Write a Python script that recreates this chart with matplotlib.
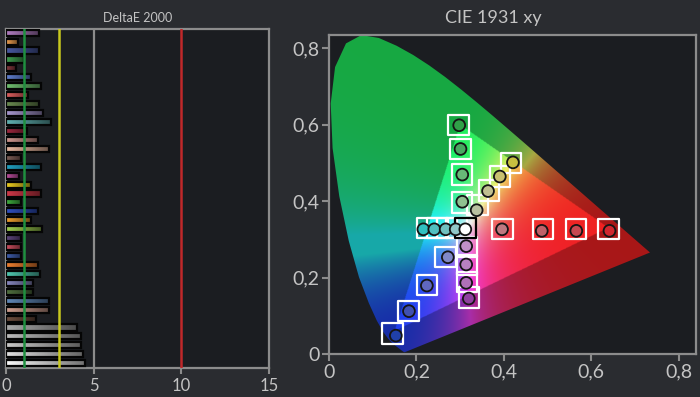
import numpy as np
import matplotlib
matplotlib.use('Agg')
import matplotlib.pyplot as plt
from matplotlib.path import Path
from matplotlib.patches import PathPatch

plt.rcParams['font.family'] = ['Lato', 'DejaVu Sans']

# ---------------- DeltaE 2000 data ----------------
de_values = [1.9, 0.7, 1.9, 1.05, 0.55, 1.43, 2.0, 1.28, 1.9, 2.1,
             2.55, 1.22, 1.85, 2.48, 0.86, 2.0, 0.76, 1.4, 2.0, 0.86,
             1.85, 1.43, 2.05, 0.86, 0.86, 0.86, 1.85, 1.95, 1.56, 1.56,
             2.48, 2.48, 1.7, 4.04, 4.25, 4.3, 4.38, 4.53]
de_colors = ['#b07cc0', '#f0a050', '#4858a0', '#40a050', '#8a3a40', '#6080d0',
             '#70c070', '#e06060', '#6a8a50', '#a898d0', '#60b0b0', '#a02840',
             '#d09890', '#e8b8a0', '#806058', '#20a0c0', '#c050a0', '#f0d020',
             '#d03848', '#40b040', '#3050c0', '#f0a030', '#a0d050', '#604880',
             '#d05060', '#4060b0', '#f08030', '#50c8b0', '#8888c0', '#507040',
             '#6088b8', '#d0a090', '#705040', '#a8a8a8', '#bcbcbc', '#cacaca',
             '#e0e0e0', '#fafafa']
de_ticks = [0, 5, 10, 15]
ref_values = [1, 3, 10]
ref_colors = ['#1f8f3f', '#c8c81e', '#c0282a']
grid_values = [5]

# ---------------- CIE 1931 data ----------------
locus_x = [0.1741, 0.1740, 0.1738, 0.1736, 0.1733, 0.1730, 0.1726, 0.1721, 0.1714,
           0.1703, 0.1689, 0.1669, 0.1644, 0.1611, 0.1566, 0.1510, 0.1440, 0.1355,
           0.1241, 0.1096, 0.0913, 0.0687, 0.0454, 0.0235, 0.0082, 0.0039, 0.0139,
           0.0389, 0.0743, 0.1142, 0.1547, 0.1929, 0.2296, 0.2658, 0.3016, 0.3373,
           0.3731, 0.4087, 0.4441, 0.4788, 0.5125, 0.5448, 0.5752, 0.6029, 0.6270,
           0.6482, 0.6658, 0.6801, 0.6915, 0.7006, 0.7079, 0.7140, 0.7190, 0.7230,
           0.7260, 0.7283, 0.7300, 0.7311, 0.7320, 0.7327, 0.7334, 0.7344, 0.7347]
locus_y = [0.0050, 0.0050, 0.0049, 0.0049, 0.0048, 0.0048, 0.0048, 0.0048, 0.0051,
           0.0058, 0.0069, 0.0086, 0.0109, 0.0138, 0.0177, 0.0227, 0.0297, 0.0399,
           0.0578, 0.0868, 0.1327, 0.2007, 0.2950, 0.4127, 0.5384, 0.6548, 0.7502,
           0.8120, 0.8338, 0.8262, 0.8059, 0.7816, 0.7543, 0.7243, 0.6923, 0.6589,
           0.6245, 0.5896, 0.5547, 0.5202, 0.4866, 0.4544, 0.4242, 0.3965, 0.3725,
           0.3514, 0.3340, 0.3197, 0.3083, 0.2993, 0.2920, 0.2859, 0.2809, 0.2770,
           0.2740, 0.2717, 0.2700, 0.2689, 0.2680, 0.2673, 0.2666, 0.2656, 0.2653]
gamut_x = [0.64, 0.30, 0.15]
gamut_y = [0.33, 0.60, 0.06]

meas_x = [0.298, 0.301, 0.305, 0.305,
          0.421, 0.391, 0.364, 0.338,
          0.216, 0.241, 0.267, 0.290,
          0.314, 0.314, 0.314, 0.320,
          0.272, 0.224, 0.183, 0.153,
          0.396, 0.487, 0.566, 0.642,
          0.312]
meas_y = [0.598, 0.536, 0.469, 0.398,
          0.501, 0.464, 0.426, 0.376,
          0.326, 0.326, 0.326, 0.326,
          0.282, 0.234, 0.186, 0.145,
          0.253, 0.179, 0.112, 0.048,
          0.326, 0.322, 0.322, 0.322,
          0.326]
meas_colors = ['#30a048', '#48a860', '#68b878', '#90c090',
               '#c8c040', '#c8c070', '#c0c090', '#b8c0a0',
               '#30c0c0', '#50c0c0', '#70c0c0', '#90c8c8',
               '#c090c8', '#b880c0', '#b070b8', '#9040a0',
               '#8088c8', '#6068c0', '#4050b0', '#2040a8',
               '#c07880', '#c06068', '#c84850', '#d02830',
               '#ffffff']
targ_x = [0.296, 0.301, 0.305, 0.305,
          0.417, 0.391, 0.366, 0.340,
          0.225, 0.248, 0.270, 0.292,
          0.316, 0.316, 0.316, 0.320,
          0.267, 0.224, 0.182, 0.145,
          0.397, 0.490, 0.566, 0.640,
          0.3127]
targ_y = [0.599, 0.536, 0.469, 0.396,
          0.500, 0.464, 0.427, 0.390,
          0.329, 0.329, 0.329, 0.329,
          0.280, 0.232, 0.188, 0.148,
          0.253, 0.180, 0.112, 0.054,
          0.326, 0.326, 0.326, 0.326,
          0.329]
targ_edges = ['white'] * 24 + ['black']
cie_ticks = [0, 0.2, 0.4, 0.6, 0.8]
cie_ticklabels = ['0', '0,2', '0,4', '0,6', '0,8']

# ---------------- styles ----------------
FIG_BG = '#2a2c30'
AX_BG = '#1b1d21'
SPINE = '#8c8c8c'
TXT = '#c4c4c4'

W, H = 700, 397
fig = plt.figure(figsize=(W / 100, H / 100), dpi=100, facecolor=FIG_BG)

# ================= Left: DeltaE bars =================
ax1 = fig.add_axes([6 / W, 1 - 368 / H, 263 / W, 339 / H], facecolor=AX_BG)
ypos = np.arange(len(de_values))
bars = ax1.barh(ypos, de_values, height=0.68, color=de_colors,
                edgecolor='#050505', linewidth=1.6, zorder=3)
for patch, col in zip(bars, de_colors):
    c = np.array(matplotlib.colors.to_rgb(col))
    t = np.linspace(0, 1, 64)[:, None]
    grad = c[None, :] * (1 - 0.55 * t)
    grad = grad[None, :, :]
    bb = patch.get_bbox()
    im = ax1.imshow(grad, extent=(bb.x0, bb.x1, bb.y1, bb.y0), aspect='auto',
                    zorder=2.9, interpolation='bilinear')
    im.set_clip_path(patch)
    patch.set_facecolor('none')

for v in grid_values:
    ax1.axvline(v, color=SPINE, lw=1.6, zorder=1)
for v, c in zip(ref_values, ref_colors):
    ax1.axvline(v, color=c, lw=1.8, zorder=4)

ax1.set_xlim(0, 15)
ax1.set_ylim(37.53, -0.41)
ax1.set_yticks([])
ax1.set_xticks(de_ticks)
ax1.set_xticklabels([str(t) for t in de_ticks])
ax1.tick_params(axis='x', colors=SPINE, labelcolor=TXT, labelsize=12,
                length=4, width=1.5, pad=3)
for s in ax1.spines.values():
    s.set_color(SPINE)
    s.set_linewidth(1.6)
fig.text(138 / W, 1 - 18 / H, 'DeltaE 2000', color=TXT, fontsize=9,
         ha='center', va='center')

# ================= Right: CIE 1931 =================
ax2 = fig.add_axes([329 / W, 1 - 354 / H, 367 / W, 319 / H], facecolor=AX_BG)
XMAX, YMAX = 0.84, 0.834
nx, ny = 600, 600
gx = np.linspace(0, XMAX, nx)
gy = np.linspace(0, YMAX, ny)
GX, GY = np.meshgrid(gx, gy)
GYs = np.maximum(GY, 1e-3)
XYZ = np.stack([GX / GYs, np.ones_like(GX), (1 - GX - GY) / GYs], axis=-1)
Mx = np.array([[3.2406, -1.5372, -0.4986],
               [-0.9689, 1.8758, 0.0415],
               [0.0557, -0.2040, 1.0570]])
lin = XYZ @ Mx.T
lin = np.clip(lin, 0, None)
tri = Path(np.column_stack([gamut_x, gamut_y]))
inside = tri.contains_points(np.column_stack([GX.ravel(), GY.ravel()])).reshape(GX.shape)
lin[~inside, 1] *= 1.35
lin = lin / np.maximum(lin.max(axis=-1, keepdims=True), 1e-6)
rgb = np.power(lin, 1.7)
tint = np.array([[1.0, 0.0, 0.0],
                 [0.0, 1.0, 0.15],
                 [0.0, 0.30, 1.0]])
rgb = rgb @ tint.T
rgb = 0.86 * np.clip(rgb, 0, 1) + 0.14
rgb[~inside] *= 0.66
rgb[inside] *= 0.94
rgb = np.clip(rgb, 0, 1)

locus_path = Path(np.column_stack([locus_x + [locus_x[0]], locus_y + [locus_y[0]]]))
locus_patch = PathPatch(locus_path, facecolor='none', edgecolor='none')
ax2.add_patch(locus_patch)
img = ax2.imshow(rgb, extent=(0, XMAX, 0, YMAX), origin='lower', aspect='auto',
                 interpolation='bilinear', zorder=1)
img.set_clip_path(locus_patch)

ax2.scatter(targ_x, targ_y, marker='s', s=215, facecolors='none',
            edgecolors=targ_edges, linewidths=1.6, zorder=3)
ax2.scatter(meas_x, meas_y, marker='o', s=72, c=meas_colors,
            edgecolors='#151515', linewidths=1.3, zorder=4)

ax2.set_xlim(0, XMAX)
ax2.set_ylim(0, YMAX)
ax2.set_xticks(cie_ticks)
ax2.set_xticklabels(cie_ticklabels)
ax2.set_yticks(cie_ticks)
ax2.set_yticklabels(cie_ticklabels)
ax2.tick_params(colors=SPINE, labelcolor=TXT, labelsize=14, length=5, width=1.5, pad=2)
for s in ax2.spines.values():
    s.set_color(SPINE)
    s.set_linewidth(1.6)
fig.text(493 / W, 1 - 18 / H, 'CIE 1931 xy', color=TXT, fontsize=13,
         ha='center', va='center')

fig.savefig('out.png', dpi=100, facecolor=FIG_BG)
